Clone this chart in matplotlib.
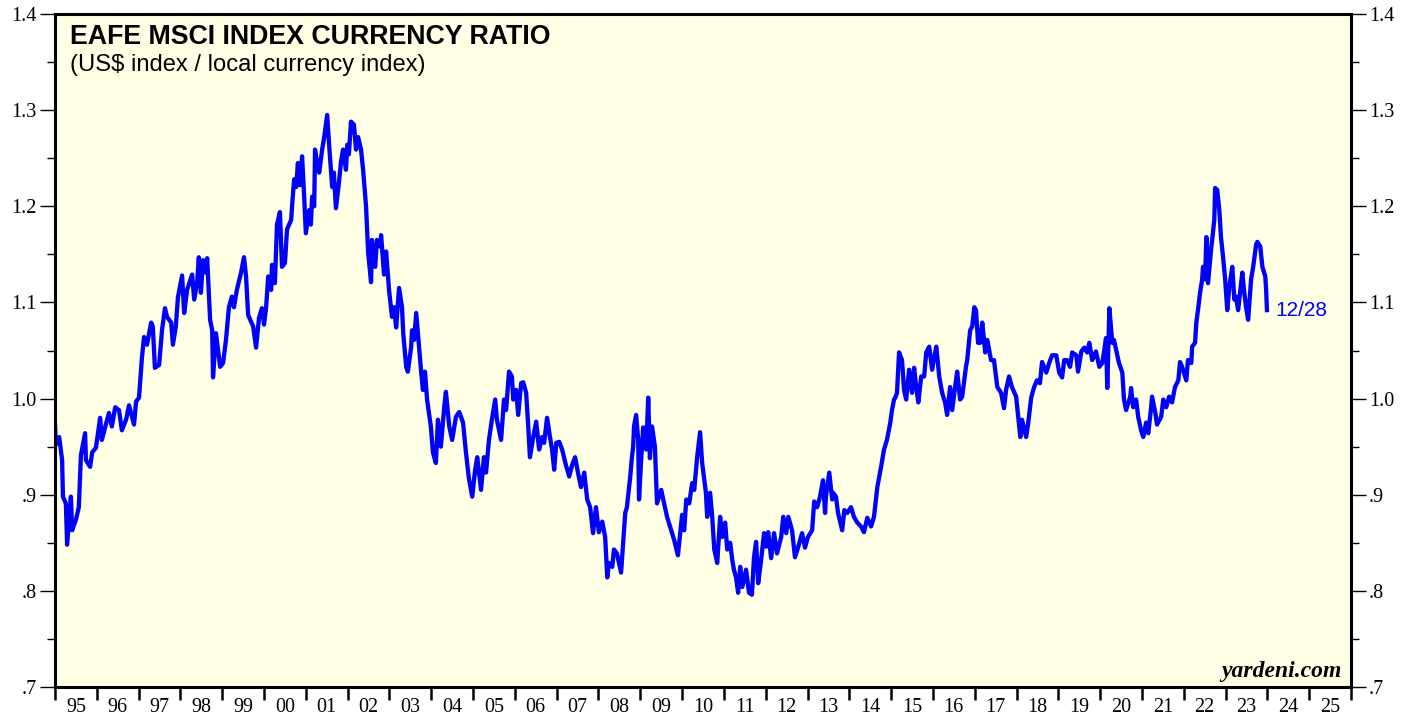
import matplotlib
matplotlib.use("Agg")
import matplotlib.pyplot as plt
import numpy as np
from matplotlib.ticker import FixedLocator, NullFormatter, FuncFormatter

# EAFE MSCI currency ratio (decimal year, ratio)
years = [
    1995.00, 1995.02, 1995.10, 1995.17, 1995.19, 1995.26, 1995.29, 1995.38, 1995.41, 1995.50,
    1995.57, 1995.62, 1995.72, 1995.74, 1995.84, 1995.89, 1995.98, 1996.08, 1996.12, 1996.29,
    1996.36, 1996.44, 1996.53, 1996.60, 1996.70, 1996.77, 1996.89, 1996.94, 1997.01, 1997.08,
    1997.13, 1997.20, 1997.30, 1997.34, 1997.39, 1997.49, 1997.56, 1997.63, 1997.68, 1997.78,
    1997.82, 1997.89, 1997.94, 1998.04, 1998.09, 1998.16, 1998.28, 1998.33, 1998.40, 1998.44,
    1998.49, 1998.54, 1998.61, 1998.64, 1998.71, 1998.76, 1998.78, 1998.85, 1998.95, 1999.02,
    1999.09, 1999.16, 1999.23, 1999.28, 1999.35, 1999.45, 1999.52, 1999.57, 1999.62, 1999.74,
    1999.81, 1999.88, 1999.95, 2000.00, 2000.05, 2000.10, 2000.17, 2000.19, 2000.26, 2000.31,
    2000.38, 2000.43, 2000.50, 2000.55, 2000.65, 2000.67, 2000.72, 2000.77, 2000.81, 2000.86,
    2000.91, 2000.96, 2001.00, 2001.08, 2001.12, 2001.15, 2001.20, 2001.22, 2001.27, 2001.32,
    2001.39, 2001.44, 2001.51, 2001.56, 2001.63, 2001.67, 2001.72, 2001.79, 2001.84, 2001.89,
    2001.96, 2001.99, 2002.03, 2002.08, 2002.15, 2002.20, 2002.25, 2002.32, 2002.37, 2002.44,
    2002.49, 2002.56, 2002.58, 2002.66, 2002.70, 2002.78, 2002.80, 2002.87, 2002.92, 2002.99,
    2003.06, 2003.11, 2003.16, 2003.23, 2003.30, 2003.33, 2003.40, 2003.44, 2003.52, 2003.54,
    2003.59, 2003.64, 2003.68, 2003.76, 2003.80, 2003.85, 2003.90, 2003.99, 2004.04, 2004.11,
    2004.16, 2004.23, 2004.31, 2004.35, 2004.43, 2004.50, 2004.59, 2004.67, 2004.76, 2004.83,
    2004.90, 2004.98, 2005.05, 2005.10, 2005.19, 2005.26, 2005.31, 2005.38, 2005.45, 2005.53,
    2005.57, 2005.67, 2005.74, 2005.79, 2005.86, 2005.93, 2005.96, 2006.03, 2006.08, 2006.15,
    2006.20, 2006.27, 2006.32, 2006.36, 2006.44, 2006.51, 2006.58, 2006.65, 2006.70, 2006.77,
    2006.84, 2006.89, 2006.94, 2006.99, 2007.06, 2007.13, 2007.22, 2007.30, 2007.37, 2007.44,
    2007.51, 2007.58, 2007.66, 2007.73, 2007.80, 2007.87, 2007.94, 2008.01, 2008.09, 2008.16,
    2008.21, 2008.25, 2008.33, 2008.37, 2008.44, 2008.54, 2008.59, 2008.64, 2008.68, 2008.76,
    2008.80, 2008.83, 2008.85, 2008.90, 2008.95, 2008.97, 2009.02, 2009.07, 2009.14, 2009.19,
    2009.23, 2009.28, 2009.35, 2009.40, 2009.50, 2009.57, 2009.64, 2009.74, 2009.81, 2009.90,
    2010.00, 2010.05, 2010.10, 2010.17, 2010.24, 2010.29, 2010.36, 2010.43, 2010.48, 2010.57,
    2010.60, 2010.67, 2010.72, 2010.77, 2010.84, 2010.91, 2010.96, 2011.03, 2011.08, 2011.15,
    2011.20, 2011.24, 2011.29, 2011.34, 2011.39, 2011.44, 2011.53, 2011.60, 2011.67, 2011.72,
    2011.77, 2011.82, 2011.89, 2011.96, 2012.01, 2012.06, 2012.13, 2012.20, 2012.27, 2012.37,
    2012.42, 2012.49, 2012.54, 2012.63, 2012.70, 2012.78, 2012.87, 2012.94, 2013.01, 2013.11,
    2013.16, 2013.23, 2013.30, 2013.37, 2013.42, 2013.44, 2013.52, 2013.59, 2013.61, 2013.68,
    2013.73, 2013.83, 2013.88, 2013.95, 2014.04, 2014.11, 2014.19, 2014.28, 2014.35, 2014.43,
    2014.52, 2014.59, 2014.67, 2014.76, 2014.83, 2014.90, 2014.98, 2015.02, 2015.07, 2015.10,
    2015.14, 2015.19, 2015.26, 2015.31, 2015.36, 2015.43, 2015.50, 2015.55, 2015.60, 2015.65,
    2015.72, 2015.79, 2015.84, 2015.91, 2015.98, 2016.03, 2016.08, 2016.15, 2016.22, 2016.29,
    2016.34, 2016.41, 2016.46, 2016.53, 2016.58, 2016.65, 2016.70, 2016.79, 2016.82, 2016.89,
    2016.94, 2016.99, 2017.03, 2017.08, 2017.13, 2017.18, 2017.25, 2017.30, 2017.39, 2017.46,
    2017.54, 2017.63, 2017.70, 2017.75, 2017.82, 2017.89, 2017.99, 2018.04, 2018.09, 2018.13,
    2018.23, 2018.28, 2018.35, 2018.42, 2018.49, 2018.56, 2018.61, 2018.71, 2018.78, 2018.85,
    2018.95, 2019.02, 2019.09, 2019.14, 2019.21, 2019.28, 2019.33, 2019.43, 2019.47, 2019.55,
    2019.62, 2019.69, 2019.74, 2019.81, 2019.90, 2019.98, 2020.05, 2020.10, 2020.14, 2020.17,
    2020.22, 2020.29, 2020.33, 2020.38, 2020.45, 2020.53, 2020.57, 2020.62, 2020.72, 2020.74,
    2020.79, 2020.86, 2020.91, 2020.98, 2021.03, 2021.10, 2021.15, 2021.22, 2021.24, 2021.32,
    2021.36, 2021.46, 2021.51, 2021.58, 2021.65, 2021.72, 2021.79, 2021.87, 2021.91, 2021.96,
    2022.06, 2022.10, 2022.18, 2022.20, 2022.27, 2022.30, 2022.34, 2022.39, 2022.44, 2022.46,
    2022.51, 2022.54, 2022.58, 2022.66, 2022.68, 2022.73, 2022.75, 2022.80, 2022.85, 2022.89,
    2022.94, 2022.99, 2023.04, 2023.09, 2023.16, 2023.21, 2023.25, 2023.30, 2023.40, 2023.44,
    2023.49, 2023.54, 2023.61, 2023.66, 2023.73, 2023.76, 2023.83, 2023.88, 2023.95, 2023.97,
    2023.99,
]
ratio = [
    0.973, 0.952, 0.960, 0.936, 0.898, 0.891, 0.848, 0.898, 0.863, 0.874,
    0.887, 0.941, 0.964, 0.936, 0.929, 0.944, 0.949, 0.980, 0.957, 0.985,
    0.971, 0.991, 0.988, 0.967, 0.978, 0.993, 0.973, 0.997, 1.001, 1.043,
    1.064, 1.056, 1.079, 1.075, 1.032, 1.035, 1.071, 1.094, 1.085, 1.079,
    1.056, 1.075, 1.105, 1.128, 1.089, 1.113, 1.129, 1.103, 1.121, 1.147,
    1.110, 1.144, 1.131, 1.146, 1.082, 1.071, 1.022, 1.068, 1.033, 1.037,
    1.061, 1.095, 1.106, 1.095, 1.113, 1.131, 1.147, 1.127, 1.087, 1.075,
    1.053, 1.084, 1.094, 1.077, 1.095, 1.127, 1.113, 1.139, 1.120, 1.181,
    1.194, 1.137, 1.141, 1.176, 1.186, 1.200, 1.228, 1.220, 1.245, 1.222,
    1.252, 1.210, 1.172, 1.196, 1.181, 1.210, 1.200, 1.259, 1.245, 1.235,
    1.259, 1.272, 1.295, 1.262, 1.220, 1.235, 1.198, 1.224, 1.246, 1.259,
    1.238, 1.264, 1.254, 1.288, 1.285, 1.259, 1.272, 1.259, 1.238, 1.200,
    1.152, 1.121, 1.165, 1.137, 1.165, 1.158, 1.170, 1.129, 1.153, 1.113,
    1.085, 1.095, 1.074, 1.115, 1.095, 1.068, 1.033, 1.028, 1.054, 1.071,
    1.061, 1.089, 1.068, 1.027, 1.009, 1.028, 0.999, 0.971, 0.944, 0.933,
    0.978, 0.950, 0.991, 1.007, 0.971, 0.957, 0.981, 0.986, 0.975, 0.944,
    0.917, 0.898, 0.926, 0.939, 0.905, 0.939, 0.923, 0.957, 0.978, 0.999,
    0.978, 0.957, 0.999, 0.988, 1.028, 1.023, 0.999, 1.009, 0.983, 1.016,
    1.017, 1.006, 0.971, 0.939, 0.960, 0.976, 0.947, 0.960, 0.954, 0.980,
    0.960, 0.947, 0.926, 0.954, 0.955, 0.947, 0.931, 0.919, 0.931, 0.939,
    0.923, 0.908, 0.923, 0.895, 0.887, 0.860, 0.887, 0.861, 0.872, 0.856,
    0.814, 0.829, 0.825, 0.843, 0.839, 0.819, 0.850, 0.881, 0.887, 0.919,
    0.939, 0.950, 0.971, 0.983, 0.957, 0.895, 0.936, 0.970, 0.947, 1.001,
    0.938, 0.971, 0.950, 0.891, 0.905, 0.891, 0.877, 0.863, 0.853, 0.837,
    0.879, 0.863, 0.895, 0.891, 0.912, 0.905, 0.939, 0.965, 0.933, 0.902,
    0.877, 0.902, 0.877, 0.843, 0.829, 0.877, 0.856, 0.871, 0.843, 0.850,
    0.832, 0.822, 0.814, 0.798, 0.825, 0.804, 0.822, 0.798, 0.796, 0.835,
    0.851, 0.808, 0.832, 0.860, 0.846, 0.861, 0.834, 0.860, 0.839, 0.856,
    0.877, 0.860, 0.877, 0.863, 0.835, 0.846, 0.860, 0.845, 0.856, 0.863,
    0.893, 0.887, 0.898, 0.915, 0.881, 0.898, 0.923, 0.895, 0.902, 0.898,
    0.881, 0.863, 0.884, 0.881, 0.887, 0.877, 0.871, 0.867, 0.861, 0.876,
    0.867, 0.877, 0.908, 0.929, 0.947, 0.957, 0.975, 0.988, 0.999, 1.001,
    1.006, 1.048, 1.040, 1.009, 0.999, 1.030, 1.006, 1.032, 1.012, 0.996,
    1.023, 1.023, 1.048, 1.054, 1.030, 1.043, 1.054, 1.023, 1.006, 0.996,
    0.983, 1.012, 0.988, 1.012, 1.028, 0.999, 1.002, 1.033, 1.040, 1.071,
    1.075, 1.095, 1.092, 1.058, 1.058, 1.079, 1.048, 1.061, 1.040, 1.040,
    1.012, 1.006, 0.990, 1.009, 1.023, 1.012, 1.002, 0.981, 0.960, 0.978,
    0.960, 0.975, 1.001, 1.012, 1.019, 1.016, 1.038, 1.027, 1.037, 1.045,
    1.045, 1.027, 1.022, 1.040, 1.040, 1.033, 1.048, 1.045, 1.028, 1.049,
    1.053, 1.048, 1.058, 1.040, 1.049, 1.033, 1.037, 1.051, 1.063, 1.011,
    1.094, 1.058, 1.061, 1.051, 1.037, 1.027, 0.999, 0.988, 1.002, 1.011,
    0.991, 0.999, 0.981, 0.967, 0.960, 0.975, 0.964, 0.991, 1.002, 0.985,
    0.973, 0.981, 0.999, 0.991, 1.002, 0.996, 1.012, 1.019, 1.038, 1.033,
    1.019, 1.040, 1.037, 1.054, 1.058, 1.079, 1.092, 1.110, 1.124, 1.137,
    1.124, 1.168, 1.120, 1.158, 1.165, 1.186, 1.219, 1.217, 1.196, 1.168,
    1.147, 1.124, 1.092, 1.116, 1.137, 1.103, 1.106, 1.092, 1.131, 1.113,
    1.095, 1.082, 1.124, 1.137, 1.160, 1.163, 1.158, 1.137, 1.127, 1.113,
    1.092,
]

year_labels = ["%02d" % (y % 100) for y in range(1995, 2026)]
y_ticks = [0.7, 0.8, 0.9, 1.0, 1.1, 1.2, 1.3, 1.4]
last_label = "12/28"

serif = "Liberation Serif"
sans = "Liberation Sans"

fig = plt.figure(figsize=(14.19, 7.17), dpi=100)
ax = fig.add_axes([55 / 1419, 30 / 717, 1296 / 1419, 673 / 717])
ax.set_facecolor("#FFFFE6")

ax.plot(years, ratio, color="#0000FF", linewidth=3.1, solid_joinstyle="round")

ax.set_xlim(1995, 2026)
ax.set_ylim(0.7, 1.4)

for s in ax.spines.values():
    s.set_linewidth(2.2)
    s.set_color("black")

# x axis: ticks at year boundaries, labels centred in between
ax.xaxis.set_major_locator(FixedLocator(np.arange(1995, 2027)))
ax.xaxis.set_major_formatter(NullFormatter())
ax.xaxis.set_minor_locator(FixedLocator(np.arange(1995, 2026) + 0.5))
ax.set_xticklabels(year_labels, minor=True)
ax.tick_params(axis="x", which="major", direction="out", length=9.5, width=1.8, color="black")
ax.tick_params(axis="x", which="minor", length=0, pad=8, labelsize=14.5)
for lab in ax.get_xticklabels(minor=True):
    lab.set_fontfamily(serif)

# y axis on both sides
ax.set_yticks(y_ticks)
ax.yaxis.set_minor_locator(FixedLocator(np.arange(0.75, 1.4, 0.1)))
ax.yaxis.set_major_formatter(FuncFormatter(lambda v, p: ("%.1f" % v).lstrip("0")))
ax.tick_params(axis="y", which="major", direction="out", length=11, width=1.0,
               left=True, right=True, labelleft=True, labelright=True,
               labelsize=14.5, pad=2)
ax.tick_params(axis="y", which="minor", direction="out", length=6, width=1.0,
               left=True, right=True)
for lab in ax.get_yticklabels():
    lab.set_fontfamily(serif)

ax.text(0.0116, 0.955, "EAFE MSCI INDEX CURRENCY RATIO", transform=ax.transAxes,
        fontsize=19.3, fontweight="bold", family=sans, va="baseline", ha="left")
ax.text(0.0116, 0.915, "(US$ index / local currency index)", transform=ax.transAxes,
        fontsize=17.1, family=sans, va="baseline", ha="left")
ax.text(0.993, 0.0155, "yardeni.com", transform=ax.transAxes, fontsize=17,
        fontweight="bold", fontstyle="italic", family=serif, ha="right", va="baseline")

ax.text(years[-1] + 0.2, ratio[-1], last_label, color="#0000FF", fontsize=15,
        family=sans, ha="left", va="center")

fig.savefig("out.png", dpi=100)
